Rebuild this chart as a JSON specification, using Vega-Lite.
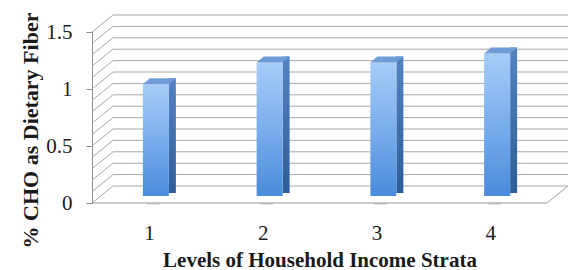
{
  "$schema": "https://vega.github.io/schema/vega-lite/v6.json",
  "width": 455,
  "height": 171,
  "autosize": {"type": "none"},
  "padding": {"left": 92, "top": 32, "right": 27, "bottom": 67},
  "background": "white",
  "config": {"view": {"stroke": null}},
  "datasets": {
    "grid": [
      {"v": 0}, {"v": 0.1}, {"v": 0.2}, {"v": 0.3}, {"v": 0.4}, {"v": 0.5}, {"v": 0.6}, {"v": 0.7},
      {"v": 0.8}, {"v": 0.9}, {"v": 1.0}, {"v": 1.1}, {"v": 1.2}, {"v": 1.3}, {"v": 1.4}, {"v": 1.5}
    ],
    "bars": [
      {"level": 1, "fiber": 0.98},
      {"level": 2, "fiber": 1.17},
      {"level": 3, "fiber": 1.17},
      {"level": 4, "fiber": 1.25}
    ]
  },
  "layer": [
    {
      "data": {"name": "grid"},
      "mark": {"type": "rule", "color": "#a8a8a8", "strokeWidth": 1, "xOffset": 21, "x2Offset": 21, "yOffset": -17},
      "encoding": {
        "x": {"datum": 0.5, "type": "quantitative", "scale": {"domain": [0.5, 4.5], "nice": false, "zero": false, "padding": 0},
          "axis": {"values": [1, 2, 3, 4], "format": "d", "ticks": false, "domain": false, "grid": false,
            "labelFont": "Liberation Serif", "labelFontSize": 21, "labelColor": "#1a1a1a", "labelPadding": 19,
            "title": "Levels of Household Income Strata", "titleFont": "Liberation Serif", "titleFontSize": 21,
            "titleFontWeight": "bold", "titleColor": "#1a1a1a", "titleBaseline": "alphabetic", "titleY": 63}},
        "x2": {"datum": 4.5},
        "y": {"field": "v", "type": "quantitative", "scale": {"domain": [0, 1.5], "nice": false},
          "axis": {"values": [0, 0.5, 1, 1.5], "format": "~g", "grid": false, "domainColor": "#909090", "tickColor": "#909090",
            "tickSize": 6, "labelPadding": 14, "labelFont": "Liberation Serif", "labelFontSize": 21, "labelColor": "#1a1a1a",
            "title": "% CHO as Dietary Fiber", "titleFont": "Liberation Serif", "titleFontSize": 22,
            "titleFontWeight": "bold", "titleColor": "#1a1a1a", "titleBaseline": "middle", "titleAngle": -90,
            "titleX": -62, "titleY": 98}}
      }
    },
    {
      "data": {"name": "grid"},
      "mark": {"type": "rule", "color": "#a8a8a8", "strokeWidth": 1, "x2Offset": 21, "y2Offset": -17},
      "encoding": {
        "x": {"datum": 0.5, "type": "quantitative"},
        "x2": {"datum": 0.5},
        "y": {"field": "v", "type": "quantitative"},
        "y2": {"field": "v"}
      }
    },
    {
      "data": {"values": [{"v": 0}]},
      "mark": {"type": "rule", "color": "#9a9a9a", "strokeWidth": 1},
      "encoding": {
        "x": {"datum": 0.5, "type": "quantitative"},
        "x2": {"datum": 4.5},
        "y": {"field": "v", "type": "quantitative"}
      }
    },
    {
      "data": {"values": [{"v": 0}]},
      "mark": {"type": "rule", "color": "#9a9a9a", "strokeWidth": 1, "x2Offset": 21, "y2Offset": -17},
      "encoding": {
        "x": {"datum": 4.5, "type": "quantitative"},
        "x2": {"datum": 4.5},
        "y": {"field": "v", "type": "quantitative"},
        "y2": {"field": "v"}
      }
    },
    {
      "data": {"name": "bars"},
      "mark": {"type": "point", "filled": true, "size": 900, "opacity": 0.35, "strokeWidth": 0,
        "color": "#9a9a9a", "shape": "M -0.2 -0.02 L 0.7 -0.02 L 0.72 0.12 L -0.1 0.12 L -0.22 0.05 Z"},
      "encoding": {
        "x": {"field": "level", "type": "quantitative"},
        "y": {"datum": 0, "type": "quantitative"}
      }
    },
    {
      "data": {"name": "bars"},
      "mark": {"type": "bar", "width": 7, "xOffset": 23.5, "yOffset": -13, "y2Offset": -10,
        "color": {"gradient": "linear", "x1": 0, "y1": 0, "x2": 0, "y2": 1,
          "stops": [{"offset": 0, "color": "#5583c2"}, {"offset": 1, "color": "#2f5d99"}]}},
      "encoding": {
        "x": {"field": "level", "type": "quantitative"},
        "y": {"field": "fiber", "type": "quantitative"},
        "y2": {"datum": 0}
      }
    },
    {
      "data": {"name": "bars"},
      "mark": {"type": "bar", "width": 26, "xOffset": 7, "yOffset": -7, "y2Offset": -7,
        "color": {"gradient": "linear", "x1": 0, "y1": 0, "x2": 0, "y2": 1,
          "stops": [{"offset": 0, "color": "#a6ccf7"}, {"offset": 0.5, "color": "#7aadec"}, {"offset": 1, "color": "#4a8bdb"}]}},
      "encoding": {
        "x": {"field": "level", "type": "quantitative"},
        "y": {"field": "fiber", "type": "quantitative"},
        "y2": {"datum": 0}
      }
    },
    {
      "data": {"name": "bars"},
      "mark": {"type": "point", "filled": true, "size": 400, "opacity": 1, "strokeWidth": 0,
        "color": "#6f9bd6", "shape": "M -0.6 -0.7 L 2.0 -0.7 L 2.7 -1.3 L 0.1 -1.3 Z"},
      "encoding": {
        "x": {"field": "level", "type": "quantitative"},
        "y": {"field": "fiber", "type": "quantitative"}
      }
    }
  ]
}
